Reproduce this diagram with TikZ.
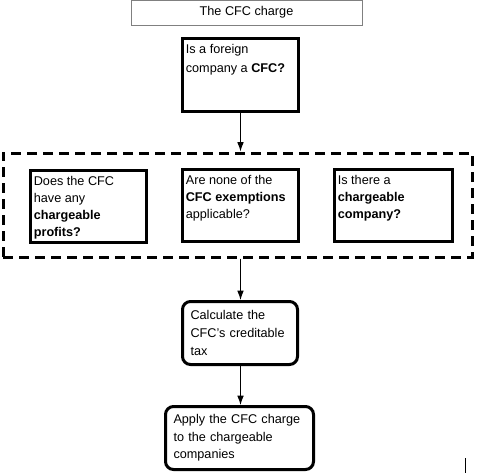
\documentclass[tikz,border=0pt]{standalone}
\usepackage{fontspec}
\setmainfont{Liberation Sans}
\usetikzlibrary{arrows.meta}

\newcommand{\toptext}[3]{\parbox[c][#2][t]{#1}{\raggedright #3}}

\begin{document}
\begin{tikzpicture}[x=0.75pt, y=-0.75pt, >={Latex[length=7pt,width=5pt]}, font=\fontsize{9.5}{12.75}\selectfont]
    \tikzstyle{title box} = [draw=gray, line width=0.75pt, minimum width=173.25pt, minimum height=18.75pt, inner sep=0pt]
    \tikzstyle{question} = [draw, line width=2.25pt, anchor=north west, inner xsep=2.5pt, inner ysep=4pt]
    \tikzstyle{step box} = [draw, line width=2.25pt, rounded corners=6pt, align=left, anchor=north west, inner xsep=6pt, inner ysep=0pt, minimum height=47.25pt]
    \tikzstyle{group box} = [draw, line width=2.25pt, dash pattern=on 7.5pt off 4.5pt, minimum width=351.75pt, minimum height=78pt]
    \useasboundingbox (0,0) rectangle (477,475);
    \node[title box] (title) at (246.5,12.5) {The CFC charge};
    \node[question] (foreign) at (181,37) {\toptext{82pt}{46.75pt}{\baselineskip=14.25pt Is a foreign\\company a \textbf{CFC?}}};
    \node[group box] (group) at (237.5,205) {};
    \node[question] (profits) at (29,169) {\toptext{82pt}{46pt}{Does the CFC\\have any\\\textbf{chargeable}\\\textbf{profits?}}};
    \node[question] (exempt) at (181,168) {\toptext{82pt}{46pt}{Are none of the\\\textbf{CFC exemptions}\\applicable?}};
    \node[question] (company) at (333,168) {\toptext{83.5pt}{46pt}{Is there a\\\textbf{chargeable}\\\textbf{company?}}};
    \node[step box, text width=74.25pt, font=\fontsize{9.5}{13.5}\selectfont] (credit) at (181,300) {Calculate the\\CFC's creditable\\tax};
    \node[step box, text width=99pt, font=\fontsize{9.5}{13}\selectfont] (apply) at (164,405) {Apply the CFC charge\\to the chargeable\\companies};
    \draw[->, line width=0.75pt] (foreign.south) -- (foreign.south |- group.north);
    \draw[->, line width=0.75pt] (foreign.south |- group.south) -- (foreign.south |- credit.north);
    \draw[->, line width=0.75pt] (foreign.south |- credit.south) -- (foreign.south |- apply.north);
    \draw[line width=0.75pt] (465,458) -- (465,473);
\end{tikzpicture}
\end{document}
